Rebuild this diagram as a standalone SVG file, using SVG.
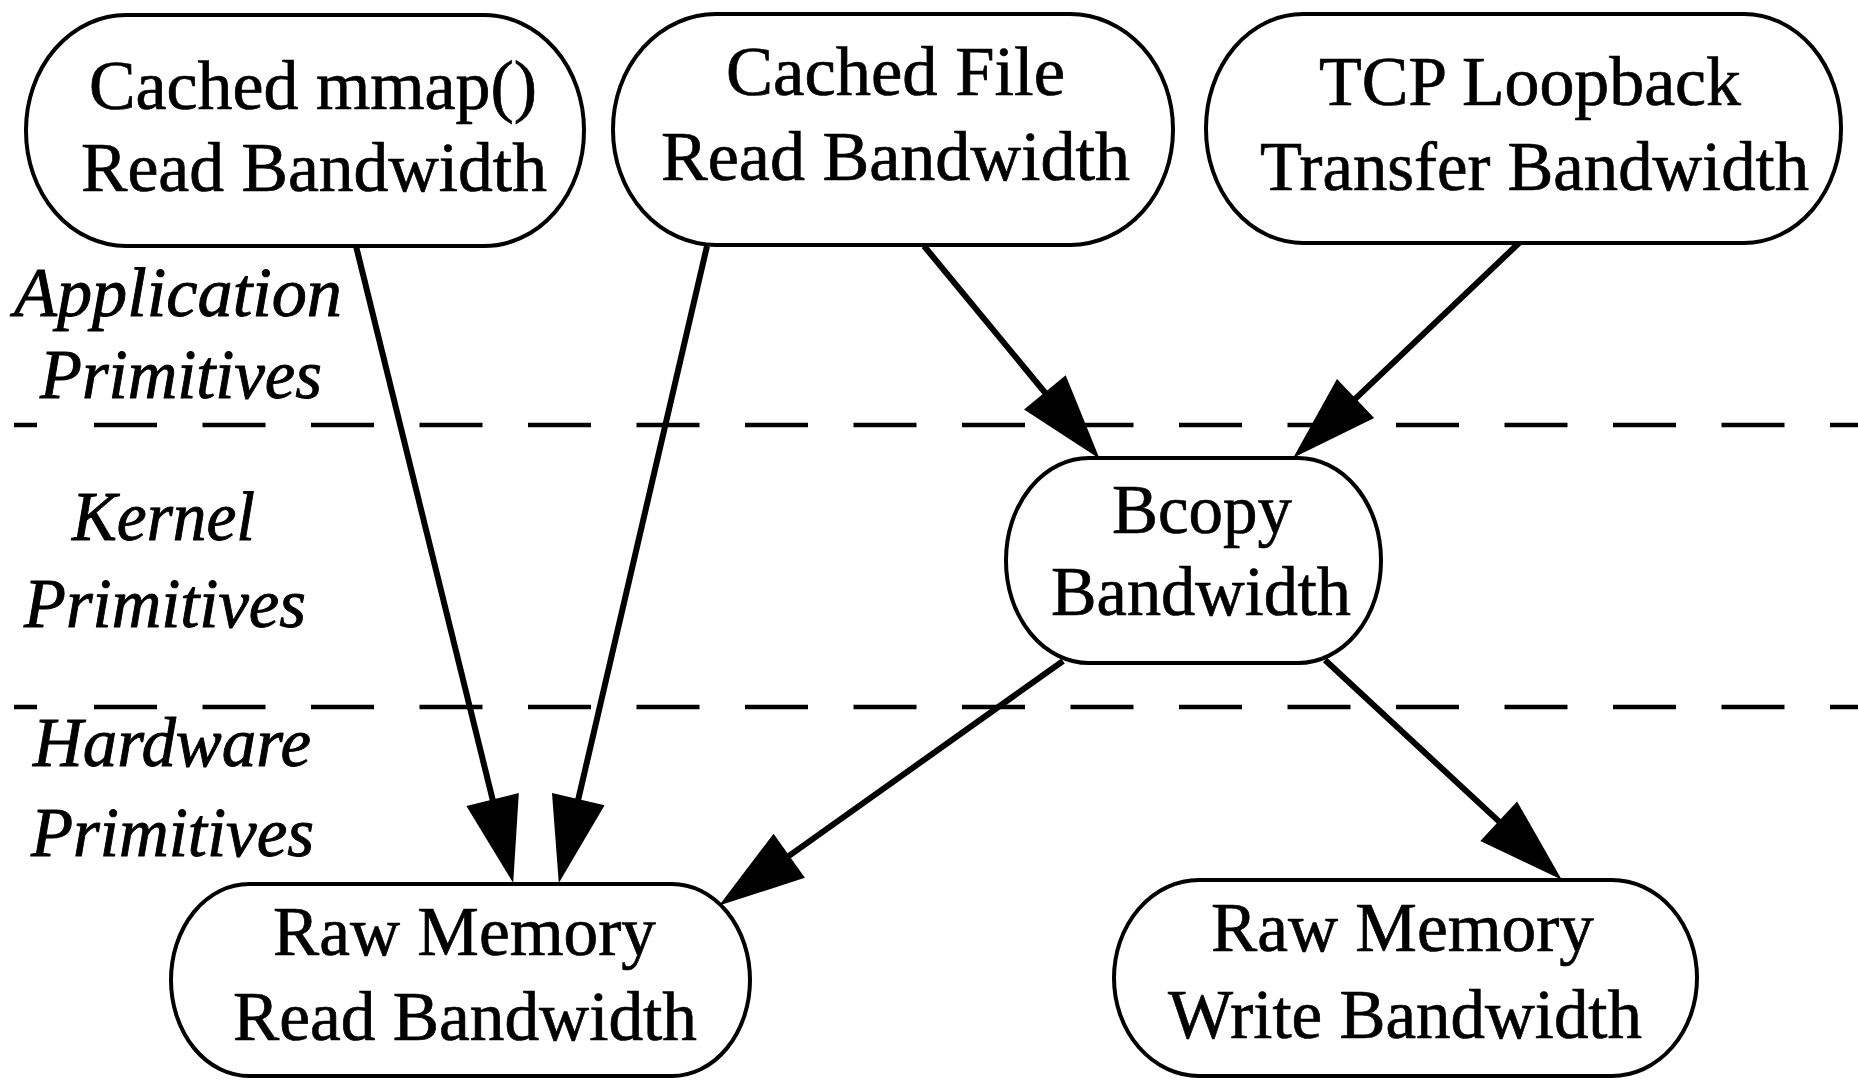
<svg xmlns="http://www.w3.org/2000/svg" width="1858" height="1080" viewBox="0 0 1858 1080">
<style>
  .node { fill: #fff; stroke: #000; stroke-width: 4; }
  .t { font-family: "Liberation Serif", "Times New Roman", serif; font-size: 69px; fill: #000; stroke: #000; stroke-width: 0.7; }
  .lbl { font-family: "Liberation Serif", "Times New Roman", serif; font-size: 69px; font-style: italic; fill: #000; stroke: #000; stroke-width: 0.9; }
  .edge { stroke: #000; stroke-width: 6; fill: none; marker-end: url(#arrow); }
  .dash { stroke: #000; stroke-width: 4.5; stroke-dasharray: 63 45.5; fill: none; }
</style>
<defs>
  <marker id="arrow" markerUnits="userSpaceOnUse" markerWidth="88" markerHeight="56" refX="15" refY="27" orient="auto" overflow="visible">
    <path d="M0,0 L86,27 L0,54 Z" fill="#000"/>
  </marker>
</defs>
<rect width="1858" height="1080" fill="#fff"/>

<g id="layers">
  <line class="dash" x1="14" y1="425" x2="37" y2="425" style="stroke-dasharray:none"/>
  <line class="dash" x1="94" y1="425" x2="1858" y2="425"/>
  <line class="dash" x1="14" y1="707" x2="37" y2="707" style="stroke-dasharray:none"/>
  <line class="dash" x1="94" y1="707" x2="1858" y2="707"/>
  <text class="lbl" x="14" y="316" textLength="328" lengthAdjust="spacingAndGlyphs">Application</text>
  <text class="lbl" x="40" y="398" textLength="282" lengthAdjust="spacingAndGlyphs">Primitives</text>
  <text class="lbl" x="72" y="540" textLength="183" lengthAdjust="spacingAndGlyphs">Kernel</text>
  <text class="lbl" x="24" y="627" textLength="282" lengthAdjust="spacingAndGlyphs">Primitives</text>
  <text class="lbl" x="33" y="766" textLength="278" lengthAdjust="spacingAndGlyphs">Hardware</text>
  <text class="lbl" x="31" y="856" textLength="283" lengthAdjust="spacingAndGlyphs">Primitives</text>
</g>

<g id="connectors">
  <line class="edge" x1="356" y1="246" x2="496.2" y2="814.0"/>
  <line class="edge" x1="707" y1="246" x2="574.9" y2="813.8"/>
  <line class="edge" x1="924" y1="246" x2="1054.4" y2="404.0"/>
  <line class="edge" x1="1519" y1="243" x2="1344.7" y2="408.8"/>
  <line class="edge" x1="1063" y1="661" x2="777.0" y2="864.4"/>
  <line class="edge" x1="1325" y1="660" x2="1509.7" y2="831.4"/>
</g>

<g id="node-mmap">
  <rect class="node" x="26" y="15" width="558" height="231" rx="100" ry="115"/>
  <text class="t" x="89" y="109" textLength="448" lengthAdjust="spacingAndGlyphs">Cached mmap()</text>
  <text class="t" x="81" y="191" textLength="466" lengthAdjust="spacingAndGlyphs">Read Bandwidth</text>
</g>

<g id="node-file">
  <rect class="node" x="613" y="14" width="560" height="231" rx="103" ry="115"/>
  <text class="t" x="726" y="95" textLength="339" lengthAdjust="spacingAndGlyphs">Cached File</text>
  <text class="t" x="661" y="180" textLength="469" lengthAdjust="spacingAndGlyphs">Read Bandwidth</text>
</g>

<g id="node-tcp">
  <rect class="node" x="1206" y="14" width="635" height="229" rx="97" ry="114"/>
  <text class="t" x="1319" y="105" textLength="422" lengthAdjust="spacingAndGlyphs">TCP Loopback</text>
  <text class="t" x="1260" y="190" textLength="549" lengthAdjust="spacingAndGlyphs">Transfer Bandwidth</text>
</g>

<g id="node-bcopy">
  <rect class="node" x="1006" y="458" width="375" height="205" rx="83" ry="102"/>
  <text class="t" x="1112" y="533" textLength="180" lengthAdjust="spacingAndGlyphs">Bcopy</text>
  <text class="t" x="1051" y="615" textLength="300" lengthAdjust="spacingAndGlyphs">Bandwidth</text>
</g>

<g id="node-rawread">
  <rect class="node" x="171" y="884" width="579" height="192" rx="78" ry="96"/>
  <text class="t" x="273" y="955" textLength="383" lengthAdjust="spacingAndGlyphs">Raw Memory</text>
  <text class="t" x="233" y="1040" textLength="464" lengthAdjust="spacingAndGlyphs">Read Bandwidth</text>
</g>

<g id="node-rawwrite">
  <rect class="node" x="1114" y="880" width="583" height="196" rx="85" ry="98"/>
  <text class="t" x="1211" y="951" textLength="383" lengthAdjust="spacingAndGlyphs">Raw Memory</text>
  <text class="t" x="1168" y="1038" textLength="474" lengthAdjust="spacingAndGlyphs">Write Bandwidth</text>
</g>
</svg>
